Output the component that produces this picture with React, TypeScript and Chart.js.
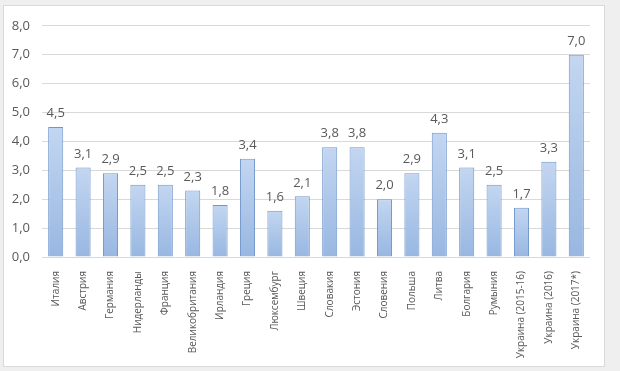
import React, { useEffect, useRef } from "react";
import { Chart, registerables } from "chart.js";

Chart.register(...registerables);

const categories = [
  "Италия", "Австрия", "Германия", "Нидерланды", "Франция", "Великобритания",
  "Ирландия", "Греция", "Люксембург", "Швеция", "Словакия", "Эстония",
  "Словения", "Польша", "Литва", "Болгария", "Румыния",
  "Украина (2015-16)", "Украина (2016)", "Украина (2017*)",
];
const values = [4.5, 3.1, 2.9, 2.5, 2.5, 2.3, 1.8, 3.4, 1.6, 2.1, 3.8, 3.8, 2.0, 2.9, 4.3, 3.1, 2.5, 1.7, 3.3, 7.0];
const yMin = 0;
const yMax = 8;
const yStep = 1;

const FONT = "'Open Sans', 'Noto Sans', sans-serif";
const TEXT = "#595959";

const fmt = (v: number) => v.toFixed(1).replace(".", ",");

const dataLabels = {
  id: "dataLabels",
  afterDatasetsDraw(chart: any) {
    const ctx = chart.ctx;
    const meta = chart.getDatasetMeta(0);
    ctx.save();
    ctx.fillStyle = TEXT;
    ctx.font = `13px ${FONT}`;
    ctx.textAlign = "center";
    ctx.textBaseline = "bottom";
    meta.data.forEach((el: any, i: number) => {
      ctx.fillText(fmt(values[i]), el.x, el.y - 7);
    });
    ctx.restore();
  },
};

export default function App() {
  const ref = useRef<HTMLCanvasElement | null>(null);
  useEffect(() => {
    if (!ref.current) return;
    const chart = new Chart(ref.current, {
      type: "bar",
      data: {
        labels: categories,
        datasets: [
          {
            data: values,
            barPercentage: 0.55,
            categoryPercentage: 1,
            borderWidth: 1,
            borderColor: "#7097cb",
            backgroundColor: (c: any) => {
              const chart = c.chart;
              const y = chart.scales?.y;
              if (!y || c.raw == null) return "#a9c4ea";
              const top = y.getPixelForValue(c.raw);
              const bottom = y.getPixelForValue(0);
              if (!isFinite(top) || !isFinite(bottom) || top === bottom) return "#a9c4ea";
              const g = chart.ctx.createLinearGradient(0, top, 0, bottom);
              g.addColorStop(0, "#c3d6f1");
              g.addColorStop(1, "#98b7e1");
              return g;
            },
          },
        ],
      },
      options: {
        animation: false,
        responsive: false,
        maintainAspectRatio: false,
        layout: { padding: { top: 18, right: 14, bottom: 0, left: 0 } },
        plugins: { legend: { display: false }, tooltip: { enabled: false } },
        scales: {
          x: {
            grid: { display: false },
            border: { display: false },
            ticks: {
              color: TEXT,
              font: { family: FONT, size: 10 },
              minRotation: 90,
              maxRotation: 90,
              autoSkip: false,
              padding: 6,
            },
            afterFit: (s: any) => {
              s.height = 109;
            },
          },
          y: {
            min: yMin,
            max: yMax,
            grid: { color: "#d9d9d9", lineWidth: 1, drawTicks: false },
            border: { display: false },
            ticks: {
              stepSize: yStep,
              color: TEXT,
              font: { family: FONT, size: 13 },
              padding: 12,
              callback: (v: any) => fmt(Number(v)),
            },
            afterFit: (s: any) => {
              s.width = 38;
            },
          },
        },
      },
      plugins: [dataLabels],
    });
    return () => chart.destroy();
  }, []);

  return (
    <div style={{ position: "absolute", left: 0, top: 0, width: 620, height: 371, background: "#efefef" }}>
      <div
        style={{
          position: "absolute",
          left: 3,
          top: 5,
          width: 602,
          height: 362,
          boxSizing: "border-box",
          border: "1px solid #d9d9d9",
          background: "#ffffff",
        }}
      >
        <canvas ref={ref} width={600} height={360} style={{ display: "block", width: 600, height: 360 }} />
      </div>
    </div>
  );
}
